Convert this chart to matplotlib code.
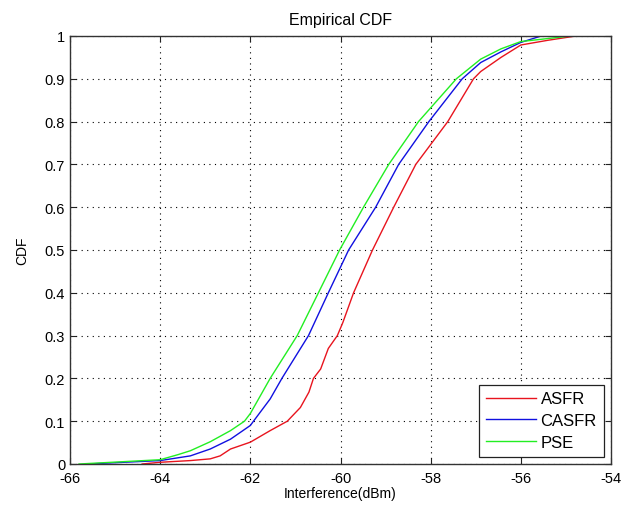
import matplotlib

matplotlib.use("Agg")
import matplotlib.pyplot as plt

# values (interference in dBm, CDF)
asfr_x = [-64.4, -64.0, -63.33, -62.89, -62.67, -62.44, -62.0, -61.56, -61.18,
          -60.89, -60.7, -60.6, -60.44, -60.27, -60.07, -59.95, -59.71, -59.29,
          -58.82, -58.33, -57.62, -57.05, -56.89, -56.44, -56.0, -55.4, -54.78]
asfr_y = [0.0, 0.004, 0.008, 0.012, 0.019, 0.035, 0.051, 0.078, 0.10,
          0.132, 0.168, 0.20, 0.222, 0.27, 0.30, 0.33, 0.40, 0.50,
          0.60, 0.70, 0.80, 0.90, 0.917, 0.95, 0.979, 0.99, 1.0]

casfr_x = [-65.6, -64.0, -63.33, -62.89, -62.44, -62.0, -61.93, -61.56, -61.3,
           -60.71, -60.27, -59.82, -59.22, -58.71, -58.04, -57.3, -56.89,
           -56.44, -56.0, -55.55]
casfr_y = [0.0, 0.008, 0.019, 0.035, 0.058, 0.09, 0.10, 0.152, 0.20,
           0.30, 0.40, 0.50, 0.60, 0.70, 0.80, 0.90, 0.938,
           0.963, 0.985, 1.0]

pse_x = [-65.8, -64.0, -63.6, -63.33, -62.89, -62.44, -62.13, -62.0, -61.56,
         -60.96, -60.49, -60.02, -59.49, -58.93, -58.27, -57.43, -56.89,
         -56.44, -56.0, -54.9]
pse_y = [0.0, 0.01, 0.022, 0.031, 0.052, 0.078, 0.10, 0.118, 0.20,
         0.30, 0.40, 0.50, 0.60, 0.70, 0.80, 0.90, 0.946,
         0.97, 0.987, 1.0]

SERIES = [
    ("ASFR", asfr_x, asfr_y, "#e8141e"),
    ("CASFR", casfr_x, casfr_y, "#1010e0"),
    ("PSE", pse_x, pse_y, "#22ee22"),
]

x_ticks = [-66, -64, -62, -60, -58, -56, -54]
y_ticks = [0, 0.1, 0.2, 0.3, 0.4, 0.5, 0.6, 0.7, 0.8, 0.9, 1]
y_tick_labels = ["0", "0.1", "0.2", "0.3", "0.4", "0.5", "0.6", "0.7", "0.8", "0.9", "1"]

plt.rcParams["font.family"] = ["Liberation Sans", "DejaVu Sans"]
plt.rcParams["font.size"] = 10

fig = plt.figure(figsize=(6.29, 5.10), dpi=100)
ax = fig.add_axes([70 / 629, 1 - 465 / 510, 541 / 629, 428 / 510])

for label, xs, ys, color in SERIES:
  ax.plot(xs, ys, color=color, linewidth=1.0, label=label)

ax.set_xlim(-66, -54)
ax.set_ylim(0, 1)
ax.set_xticks(x_ticks)
ax.set_xticklabels([str(t) for t in x_ticks])
ax.set_yticks(y_ticks)
ax.set_yticklabels(y_tick_labels)
ax.tick_params(direction="in", top=True, right=True, length=4, width=0.8,
               colors="#222222", labelcolor="black", labelsize=10.5)
ax.tick_params(axis="x", pad=5)
ax.grid(True, color="black", linestyle=(0, (1, 4)), linewidth=0.8)
for spine in ax.spines.values():
  spine.set_color("#333333")
  spine.set_linewidth(1.0)

ax.set_title("Empirical CDF", fontsize=11.5, pad=9)
ax.set_xlabel("Interference(dBm)", labelpad=1)
ax.set_ylabel("CDF", labelpad=11)

leg = ax.legend(loc="lower right", fancybox=False, framealpha=1,
                edgecolor="#222222", handlelength=3.0, borderaxespad=0.45,
                labelspacing=0.4, handletextpad=0.3, borderpad=0.4,
                fontsize=12)
leg.get_frame().set_linewidth(0.9)

fig.savefig("out.png", dpi=100)
